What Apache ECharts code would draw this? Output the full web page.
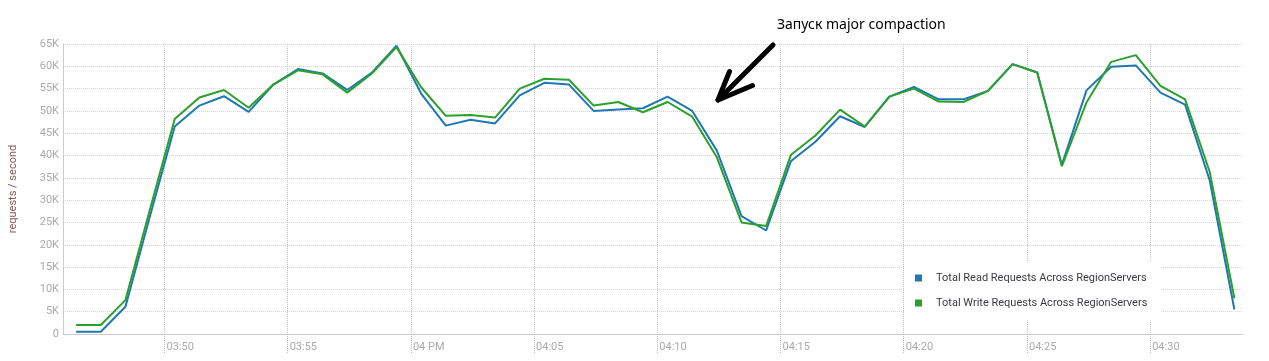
<!DOCTYPE html>
<html>
<head>
<meta charset="utf-8">
<script src="https://cdn.jsdelivr.net/npm/echarts@6.0.0/dist/echarts.min.js"></script>
<style>
html,body{margin:0;padding:0;background:#fff;}
#c{width:1269px;height:361px;}
</style>
</head>
<body>
<div id="c"></div>
<script>
// Sample times (hh:mm:ss)
var times = ['03:46:25','03:47:25','03:48:25','03:49:25','03:50:25','03:51:25','03:52:25','03:53:25',
  '03:54:25','03:55:25','03:56:25','03:57:25','03:58:25','03:59:25','04:00:25','04:01:25',
  '04:02:25','04:03:25','04:04:25','04:05:25','04:06:25','04:07:25','04:08:25','04:09:25',
  '04:10:25','04:11:25','04:12:25','04:13:25','04:14:25','04:15:25','04:16:25','04:17:25',
  '04:18:25','04:19:25','04:20:25','04:21:25','04:22:25','04:23:25','04:24:25','04:25:25',
  '04:26:25','04:27:25','04:28:25','04:29:25','04:30:25','04:31:25','04:32:25','04:33:25'];

var readRequests = [500, 500, 6100, 26500, 46500, 51200, 53300, 49800, 55900, 59400, 58400, 54700,
  58600, 64600, 53900, 46700, 48000, 47200, 53500, 56300, 55900, 50000, 50300, 50600,
  53200, 50000, 41100, 26400, 23200, 38700, 43100, 48800, 46400, 53200, 55400, 52600,
  52600, 54500, 60500, 58600, 37900, 54600, 59900, 60200, 54100, 51400, 34400, 5500];

var writeRequests = [2000, 2000, 7600, 28000, 48200, 53000, 54700, 50700, 55900, 59100, 58200, 54100,
  58400, 64300, 55300, 48900, 49100, 48500, 55000, 57200, 57000, 51200, 52000, 49700,
  52000, 48700, 39600, 25000, 24200, 40100, 44500, 50300, 46500, 53200, 55000, 52100,
  52000, 54500, 60500, 58600, 37600, 51900, 61000, 62500, 55600, 52600, 36300, 8000];

var seriesNames = ['Total Read Requests Across RegionServers', 'Total Write Requests Across RegionServers'];

var xTickTimes = ['03:50','03:55','04:00','04:05','04:10','04:15','04:20','04:25','04:30'];
var xTickLabels = ['03:50','03:55','04 PM','04:05','04:10','04:15','04:20','04:25','04:30'];
var xRange = ['03:45:53', '04:33:46'];

var yTicks = [0,5000,10000,15000,20000,25000,30000,35000,40000,45000,50000,55000,60000,65000];
var yTickLabels = ['0','5K','10K','15K','20K','25K','30K','35K','40K','45K','50K','55K','60K','65K'];

var annotationText = 'Запуск major compaction';
var yAxisName = 'requests / second';

function toMin(s){
  var p = s.split(':').map(Number);
  return p[0]*60 + p[1] + (p[2]||0)/60;
}
var xVals = times.map(toMin);
var tickVals = xTickTimes.map(toMin);
var labelMap = {};
tickVals.forEach(function(v,i){ labelMap[Math.round(v)] = xTickLabels[i]; });
var yLabelMap = {};
yTicks.forEach(function(v,i){ yLabelMap[v] = yTickLabels[i]; });

function pairs(vals){ return vals.map(function(v,i){ return [xVals[i], v]; }); }

var chart = echarts.init(document.getElementById('c'), null, {renderer:'canvas'});
chart.setOption({
  animation: false,
  backgroundColor: '#fff',
  grid: {left: 57.5, right: 26, top: 44, bottom: 27, containLabel: false},
  xAxis: {
    type: 'value',
    min: toMin(xRange[0]), max: toMin(xRange[1]),
    axisLine: {show: true, lineStyle: {color: '#cccccc', width: 1}},
    axisTick: {show: true, customValues: tickVals, length: 19, lineStyle: {type: 'dotted', color: '#bbbbbb'}},
    axisLabel: {
      customValues: tickVals, align: 'left', margin: 8, padding: [0,0,0,2],
      color: '#aaaaaa', fontSize: 11, fontFamily: 'Roboto',
      formatter: function(v){ return labelMap[Math.round(v)] || ''; }
    },
    splitLine: {show: true, lineStyle: {type: 'dotted', color: '#c4c4c4'}}
  },
  yAxis: {
    type: 'value', min: 0, max: 65000, interval: 5000,
    name: yAxisName, nameLocation: 'middle', nameGap: 44, nameRotate: 90,
    nameTextStyle: {color: '#8c5a50', fontSize: 11, fontFamily: 'Roboto'},
    axisLine: {show: true, lineStyle: {color: '#cccccc'}},
    axisTick: {show: false},
    axisLabel: {margin: 4, color: '#aaaaaa', fontSize: 11, fontFamily: 'Roboto',
      formatter: function(v){ return yLabelMap[v] !== undefined ? yLabelMap[v] : ''; }},
    splitLine: {show: true, lineStyle: {type: 'dotted', color: '#d6d6d6'}}
  },
  legend: {
    orient: 'vertical', left: 905, top: 262,
    padding: [9, 14, 9, 10],
    backgroundColor: '#ffffff',
    icon: 'rect', itemWidth: 7, itemHeight: 7, itemGap: 11,
    textStyle: {color: '#3a3a44', fontSize: 11, fontFamily: "'Liberation Sans Narrow', 'Roboto'", lineHeight: 14, padding: [0,0,0,9]},
    data: seriesNames
  },
  series: [
    {name: seriesNames[0], type: 'line', data: pairs(readRequests), showSymbol: false, symbol: 'none',
     lineStyle: {color: '#1f77b4', width: 2}, itemStyle: {color: '#1f77b4'}, z: 2},
    {name: seriesNames[1], type: 'line', data: pairs(writeRequests), showSymbol: false, symbol: 'none',
     lineStyle: {color: '#2ca02c', width: 2}, itemStyle: {color: '#2ca02c'}, z: 3}
  ],
  graphic: [
    {type: 'text', left: 777, top: 18, z: 10,
     style: {text: annotationText, fill: '#000', font: "14px 'Noto Sans'"}},
    {type: 'polyline', z: 10, shape: {points: [[773,45],[718,100]]},
     style: {stroke: '#000', lineWidth: 5, lineCap: 'round', fill: null}},
    {type: 'polyline', z: 10, shape: {points: [[729.5,71.5],[718,100],[752.5,85.5]]},
     style: {stroke: '#000', lineWidth: 5, lineCap: 'round', lineJoin: 'round', fill: null}}
  ]
});
</script>
</body>
</html>
